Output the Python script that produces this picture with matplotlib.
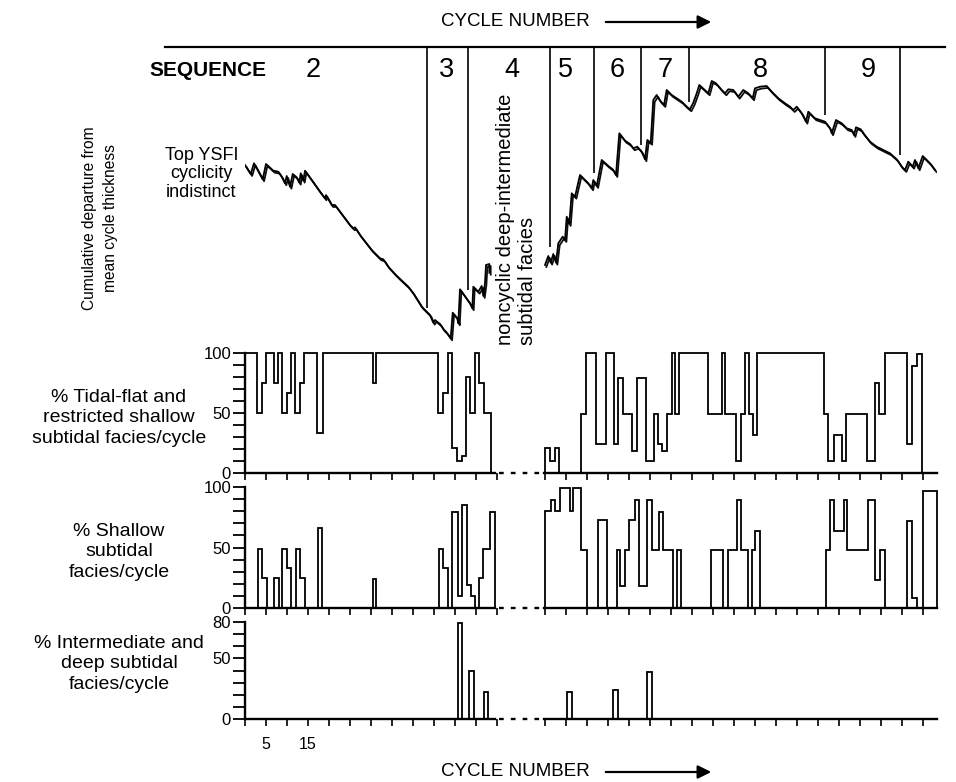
import matplotlib.pyplot as plt
import matplotlib.patheffects as pe
from matplotlib.ticker import MultipleLocator

plt.rcParams['font.family'] = ['Liberation Sans', 'DejaVu Sans']

# ---- data (x = cycle number) ----
# Fischer plot: cumulative departure from mean cycle thickness
fischer_left_x = [0.0, 1.36, 2.14, 4.21, 5.0, 6.74, 7.93, 8.74, 9.52, 9.93, 10.71, 11.36, 12.31,
                  12.93, 13.26, 13.88, 14.29, 15.88, 17.86, 19.05, 19.29, 20.64, 21.43, 22.62,
                  25.0, 25.79, 26.19, 27.38, 30.17, 32.14, 32.93, 34.12, 35.71, 36.5, 38.88,
                  40.07, 42.07, 44.05, 44.83, 45.24, 46.43, 47.38, 47.86, 48.98, 49.45, 50.55,
                  50.79, 51.19, 53.57, 54.12, 54.36, 55.55, 56.36, 56.74, 57.14, 57.38, 58.17, 58.17]
fischer_left_y = [18.5, 17.6, 18.67, 17.07, 18.6, 17.93, 17.83, 17.33, 16.67, 17.4, 16.33, 17.6, 17.27,
                  16.73, 17.67, 16.93, 17.93, 17.0, 15.83, 15.17, 15.5, 14.5, 14.5, 13.83,
                  12.5, 12.17, 12.27, 11.5, 10.0, 9.17, 9.07, 8.33, 7.6, 7.27, 6.33,
                  5.67, 4.33, 3.5, 2.73, 3.0, 2.6, 2.0, 1.83, 1.17, 3.73, 3.17,
                  2.67, 6.07, 4.67, 4.17, 6.33, 5.83, 6.4, 5.4, 6.67, 8.5, 8.6, 7.73]
fischer_right_x = [71.43, 72.21, 72.79, 73.4, 74.05, 74.6, 75.64, 76.19, 76.6, 77.21, 77.79, 78.57,
                   79.76, 80.95, 81.74, 82.55, 82.93, 83.74, 84.93, 86.5, 87.55, 88.33, 89.12,
                   90.48, 91.67, 92.45, 93.4, 94.45, 95.24, 95.79, 96.6, 97.21, 98.02, 98.81,
                   99.76, 100.4, 101.6, 102.79, 103.98, 105.17, 105.95, 106.74, 107.55, 108.17,
                   109.29, 110.31, 111.12, 112.14, 113.5, 114.29, 115.07, 116.26, 117.45, 118.64,
                   119.83, 120.88, 121.43, 122.62, 124.21, 125.4, 126.98, 128.57, 129.76, 130.55,
                   131.36, 132.55, 133.57, 134.12, 135.71, 136.9, 138.1, 139.29, 139.69, 140.71,
                   142.07, 143.26, 144.45, 145.0, 145.48, 146.6, 147.21, 148.81, 150.4, 151.98,
                   153.57, 155.17, 156.36, 157.14, 157.93, 158.98, 159.52, 160.31, 161.36, 162.31,
                   163.1, 164.29]
fischer_right_y = [8.5, 9.4, 8.73, 9.6, 8.73, 10.67, 11.33, 11.0, 13.33, 12.6, 15.67, 15.33,
                   17.5, 17.0, 16.67, 16.17, 17.0, 16.4, 19.0, 18.4, 18.07, 17.5, 21.67,
                   20.93, 20.6, 20.17, 20.33, 19.83, 19.07, 21.0, 20.73, 25.0, 25.5, 24.93,
                   24.5, 26.0, 25.5, 25.17, 24.83, 24.33, 24.07, 24.73, 25.67, 26.5,
                   26.07, 25.67, 26.9, 26.67, 26.0, 25.67, 26.07, 26.0, 25.33, 26.0,
                   25.67, 25.17, 26.17, 26.33, 26.4, 25.83, 25.17, 24.67, 24.33, 24.0,
                   24.33, 23.67, 22.83, 23.83, 23.17, 23.0, 22.83, 22.17, 21.67, 23.0,
                   22.67, 22.17, 22.0, 21.5, 22.27, 22.07, 21.67, 20.83, 20.33, 20.0,
                   19.67, 19.07, 18.33, 18.0, 18.83, 18.33, 19.0, 18.17, 19.4, 19.0,
                   18.67, 18.0]

# sequence boundaries (cycle, lower end of line) and labels
boundary_x = [43.33, 53.1, 72.62, 83.1, 94.29, 105.71, 138.1, 155.95]
boundary_y = [4.2, 6.0, 10.3, 17.7, 20.5, 24.8, 23.5, 19.5]
seq_names = ['2', '3', '4', '5', '6', '7', '8', '9']
seq_label_x = [16.2, 48.1, 63.6, 76.2, 88.6, 100.0, 122.6, 148.3]

# % tidal-flat and restricted shallow subtidal facies / cycle
tidal_left_edges = [0, 2.9, 4.1, 5.1, 6.9, 7.8, 8.7, 9.9, 10.9, 11.9, 13.1, 14.0, 17.2, 18.5,
                    30.4, 31.3, 46.0, 47.2, 48.4, 49.2, 50.4, 51.6, 52.6, 53.6, 54.8, 55.8, 56.9, 58.5]
tidal_left_vals = [100, 50, 75, 100, 75, 100, 50, 67, 100, 50, 75, 100, 33, 100, 75,
                   100, 50, 67, 100, 21, 10, 14, 80, 50, 100, 75, 50]
tidal_right_edges = [71.4, 72.6, 73.8, 74.8, 79.9, 81.2, 83.6, 85.9, 87.9, 88.9, 90.1, 92.1, 93.4,
                     95.5, 97.4, 98.4, 99.2, 100.4, 101.6, 102.4, 103.4, 110.3, 113.5, 114.3, 117.0,
                     118.2, 119.0, 120.0, 121.0, 121.9, 137.8, 138.9, 140.2, 142.2, 143.2, 148.2,
                     150.0, 151.0, 152.4, 157.5, 158.7, 159.9, 161.3]
tidal_right_vals = [21, 10, 21, 0, 49, 100, 24, 100, 24, 79, 49, 18, 79, 10, 49, 24, 18, 49, 100, 49,
                    100, 49, 100, 49, 10, 49, 100, 49, 32, 100, 49, 10, 32, 10, 49, 10, 75, 49,
                    100, 24, 89, 99]

# % shallow subtidal facies / cycle
shallow_left_edges = [0, 3.2, 4.1, 5.2, 6.8, 8.1, 8.7, 9.9, 11.0, 12.1, 13.1, 14.3, 17.3, 18.4,
                      30.4, 31.3, 46.2, 47.2, 48.4, 49.4, 50.6, 51.6, 52.8, 53.7, 54.8, 55.6,
                      56.7, 58.3, 59.5]
shallow_left_vals = [0, 49, 25, 0, 25, 0, 49, 33, 0, 49, 25, 0, 66, 0, 24, 0, 49, 33, 0, 79,
                     10, 85, 19, 10, 0, 25, 49, 79]
shallow_right_edges = [71.5, 72.9, 73.8, 75.0, 77.3, 78.2, 80.0, 81.4, 84.1, 86.1, 88.5, 89.3,
                       90.5, 91.5, 92.8, 93.7, 95.8, 96.8, 98.6, 99.6, 101.8, 102.8, 103.7, 110.9,
                       113.9, 115.1, 117.2, 118.0, 119.8, 120.6, 121.4, 122.6, 138.3, 139.4, 140.2,
                       142.5, 143.4, 148.4, 150.0, 151.2, 152.4, 157.7, 158.9, 160.1, 161.5, 164.7]
shallow_right_vals = [80, 89, 80, 99, 80, 99, 48, 0, 73, 0, 48, 18, 48, 73, 89, 18, 89, 48, 79, 48,
                      0, 48, 0, 48, 0, 48, 89, 48, 0, 48, 64, 0, 48, 89, 64, 89, 48, 89, 23, 48,
                      0, 72, 8, 0, 97]

# % intermediate and deep subtidal facies / cycle
deep_left_edges = [50.8, 51.7, 53.4, 54.5, 57.0, 57.9]
deep_left_vals = [79, 0, 40, 0, 22]
deep_right_edges = [76.6, 77.8, 87.7, 88.9, 95.8, 97.0]
deep_right_vals = [22, 0, 24, 0, 39]

left_ticks = list(range(0, 61, 5))
right_ticks = [71.5 + 5 * i for i in range(19)]
left_axis_end = 59.5
right_axis_start = 71.2

# ---- layout ----
W, H = 956, 782
X0, X1 = 245, 937
XMAX = (X1 - X0) / 4.2


def box(top, bottom, left=X0, right=X1):
    return [left / W, 1 - bottom / H, (right - left) / W, (bottom - top) / H]


fig = plt.figure(figsize=(W / 100, H / 100), dpi=100)

# ---- Fischer plot ----
ax0 = fig.add_axes(box(40, 350))
ax0.set_xlim(0, XMAX)
ax0.set_ylim(0, 31)
ax0.axis('off')
shadow = [pe.SimpleLineShadow(offset=(1.0, -1.4), shadow_color='black', alpha=0.95), pe.Normal()]
ax0.plot(fischer_left_x, fischer_left_y, color='black', lw=1.3, path_effects=shadow)
ax0.plot(fischer_right_x, fischer_right_y, color='black', lw=1.3, path_effects=shadow)
ax0.vlines(boundary_x, boundary_y, 30.3, color='black', lw=1.2)
ax0.axhline(30.3, xmin=-0.116, xmax=1.012, color='black', lw=1.6, clip_on=False)
for name, x in zip(seq_names, seq_label_x):
    ax0.text(x, 28, name, fontsize=19.5, ha='center', va='center')
ax0.text(-8.8, 28, 'SEQUENCE', fontsize=15, fontweight='bold', ha='center', va='center')
ax0.text(-10.4, 17.6, 'Top YSFI\ncyclicity\nindistinct', fontsize=13, ha='center',
         va='center', linespacing=1.1)
ax0.text(64.6, 0.5, 'noncyclic deep-intermediate\nsubtidal facies', fontsize=14.5,
         rotation=90, ha='center', va='bottom', multialignment='left', linespacing=1.2)

fig.text(100 / W, 1 - 218 / H, 'Cumulative departure from\nmean cycle thickness', fontsize=11.2,
         rotation=90, ha='center', va='center', linespacing=1.55)

# ---- step panels ----
panels = [
    (353, 473, 100, [0, 50, 100], tidal_left_edges, tidal_left_vals,
     tidal_right_edges, tidal_right_vals,
     '% Tidal-flat and\nrestricted shallow\nsubtidal facies/cycle', 418),
    (487, 608, 100, [0, 50, 100], shallow_left_edges, shallow_left_vals,
     shallow_right_edges, shallow_right_vals,
     '% Shallow\nsubtidal\nfacies/cycle', 552),
    (622, 719, 80, [0, 50, 80], deep_left_edges, deep_left_vals,
     deep_right_edges, deep_right_vals,
     '% Intermediate and\ndeep subtidal\nfacies/cycle', 664),
]

for i, (top, bot, ymax, yt, le, lv, re_, rv, label, ly) in enumerate(panels):
    ax = fig.add_axes(box(top, bot))
    ax.set_xlim(0, XMAX)
    ax.set_ylim(0, ymax)
    ax.stairs(lv, le, baseline=0, color='black', lw=1.3, clip_on=False)
    ax.stairs(rv, re_, baseline=0, color='black', lw=1.3, clip_on=False)
    for s in ['top', 'right', 'bottom']:
        ax.spines[s].set_visible(False)
    ax.spines['left'].set_linewidth(1.7)
    ax.plot([0, left_axis_end], [0, 0], color='black', lw=1.7, clip_on=False)
    ax.plot([left_axis_end + 1, right_axis_start - 0.5], [0, 0], color='black', lw=1.7,
            ls=(0, (2, 3)), clip_on=False)
    ax.plot([right_axis_start, XMAX], [0, 0], color='black', lw=1.7, clip_on=False)
    ax.set_yticks(yt)
    ax.set_yticklabels([str(v) for v in yt], fontsize=12)
    ax.yaxis.set_minor_locator(MultipleLocator(10))
    ax.tick_params(axis='y', which='both', direction='out', length=8.5, width=1.3, pad=1.5)
    ticks = left_ticks + right_ticks
    ax.set_xticks(ticks)
    if i == 2:
        ax.set_xticklabels(['5' if t == 5 else '15' if t == 15 else '' for t in ticks],
                           fontsize=11.5)
    else:
        ax.set_xticklabels([])
    ax.tick_params(axis='x', direction='out', length=5, width=1.2, pad=8)
    fig.text(119 / W, 1 - ly / H, label, fontsize=14, ha='center', va='center',
             multialignment='center', linespacing=1.25)

# ---- cycle number arrows ----
for yy in [22, 772]:
    fig.text(515 / W, 1 - yy / H, 'CYCLE NUMBER', fontsize=13.5, ha='center', va='center')
    fig.add_artist(plt.Annotation('', xy=(714 / W, 1 - yy / H), xytext=(603 / W, 1 - yy / H),
                                  xycoords='figure fraction', textcoords='figure fraction',
                                  arrowprops=dict(arrowstyle='-|>', color='black', lw=1.6,
                                                  mutation_scale=20)))

fig.savefig('out.png', dpi=100)
